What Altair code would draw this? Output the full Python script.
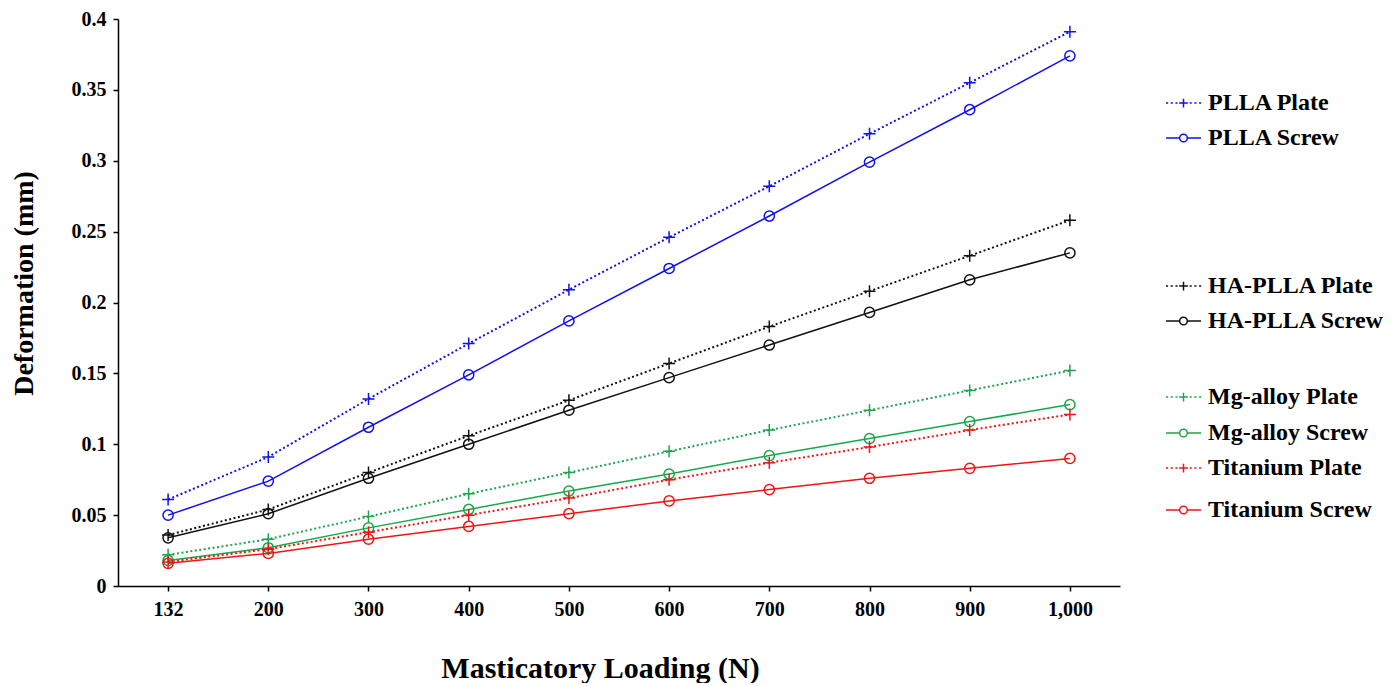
import altair as alt
import pandas as pd

loads = ["132", "200", "300", "400", "500", "600", "700", "800", "900", "1,000"]

pla_plate = [0.061, 0.091, 0.132, 0.171, 0.209, 0.246, 0.282, 0.319, 0.355, 0.391]
pla_screw = [0.050, 0.074, 0.112, 0.149, 0.187, 0.224, 0.261, 0.299, 0.336, 0.374]
ha_plate = [0.036, 0.054, 0.080, 0.106, 0.131, 0.157, 0.183, 0.208, 0.233, 0.258]
ha_screw = [0.034, 0.051, 0.076, 0.100, 0.124, 0.147, 0.170, 0.193, 0.216, 0.235]
mg_plate = [0.022, 0.033, 0.049, 0.065, 0.080, 0.095, 0.110, 0.124, 0.138, 0.152]
mg_screw = [0.018, 0.027, 0.041, 0.054, 0.067, 0.079, 0.092, 0.104, 0.116, 0.128]
ti_plate = [0.017, 0.026, 0.038, 0.050, 0.062, 0.075, 0.087, 0.098, 0.110, 0.121]
ti_screw = [0.016, 0.023, 0.033, 0.042, 0.051, 0.060, 0.068, 0.076, 0.083, 0.090]

series_names = ["PLLA Plate", "PLLA Screw", "HA-PLLA Plate", "HA-PLLA Screw",
                "Mg-alloy Plate", "Mg-alloy Screw", "Titanium Plate", "Titanium Screw"]
series_values = [pla_plate, pla_screw, ha_plate, ha_screw,
                 mg_plate, mg_screw, ti_plate, ti_screw]
series_colors = ["#1010f0", "#1010f0", "#111111", "#111111",
                 "#1aa64a", "#1aa64a", "#f01414", "#f01414"]

y_ticks = [0, 0.05, 0.1, 0.15, 0.2, 0.25, 0.3, 0.35, 0.4]

FONT = "Liberation Serif"

# marker shapes (unit square paths)
cross_path = "M-1,0H1M0,-1V1"
circle_path = "M0.85,0A0.85,0.85 0 1,1 -0.85,0A0.85,0.85 0 1,1 0.85,0Z"

# legend symbols: short line with marker
dots = "".join(f"M{-1 + i * 0.27:.3f},0H{-1 + i * 0.27 + 0.12:.3f}" for i in range(8))
leg_plate = dots + "M0,-0.25V0.25M-0.25,0H0.25"
leg_screw = ("M-1,0H-0.22M0.22,0H1"
             "M0.22,0A0.22,0.22 0 1,1 -0.22,0A0.22,0.22 0 1,1 0.22,0Z")

# legend row centres (page px) converted to plot-relative top of each entry
legend_centres = [102, 137, 285, 320, 396, 432, 467, 509]
PLOT_TOP = 19
SYM = 35

X = alt.X("Load:O", sort=loads,
          scale=alt.Scale(type="point", padding=0.5),
          axis=alt.Axis(title="Masticatory Loading (N)", labelAngle=0, titleFontSize=30,
                        labelPadding=8, titlePadding=34, tickSize=5, titleX=482))
Y = alt.Y("Value:Q", scale=alt.Scale(domain=[0, 0.4], nice=False),
          axis=alt.Axis(title="Deformation (mm)", values=y_ticks, format=".2~f",
                        labelPadding=7, titlePadding=33, tickSize=5, titleY=264))

layers = []
for name, vals, color, centre in zip(series_names, series_values, series_colors, legend_centres):
    kind = "Plate" if name.endswith("Plate") else "Screw"
    df = pd.DataFrame({"Load": loads, "Value": vals, "Series": name})
    base = alt.Chart(df).encode(
        x=X, y=Y,
        color=alt.Color(
            "Series:N",
            scale=alt.Scale(domain=[name], range=[color]),
            legend=alt.Legend(
                title=None, orient="none", legendX=1047,
                legendY=centre - PLOT_TOP - SYM / 2,
                symbolSize=SYM * SYM, labelOffset=6, labelLimit=300,
                symbolType=leg_plate if kind == "Plate" else leg_screw,
                symbolFillColor="transparent", symbolStrokeWidth=1.5,
                labelFont=FONT, labelFontSize=24, labelFontWeight="bold",
                labelColor="black",
            ),
        ),
    )
    if kind == "Plate":
        line = base.mark_line(strokeDash=[2, 2.5], strokeWidth=2)
        pts = base.mark_point(filled=False, size=144, strokeWidth=1.5, opacity=1, shape=cross_path)
    else:
        line = base.mark_line(strokeWidth=1.5)
        pts = base.mark_point(filled=False, size=144, strokeWidth=1.5, opacity=1, shape=circle_path)
    layers.append(alt.layer(line, pts))

chart = alt.layer(*layers).resolve_scale(color="independent").properties(
    width=1002, height=567,
    padding={"left": 2, "top": 1, "right": 0, "bottom": 0},
).configure_view(stroke=None).configure_axis(
    grid=False, domainColor="black", domainWidth=1.5, tickColor="black", tickWidth=1.5,
    labelFont=FONT, labelFontSize=20, labelFontWeight="bold", labelColor="black",
    titleFont=FONT, titleFontSize=28, titleFontWeight="bold", titleColor="black",
)

chart.save("out.html", embed_options={"renderer": "svg", "actions": False})
